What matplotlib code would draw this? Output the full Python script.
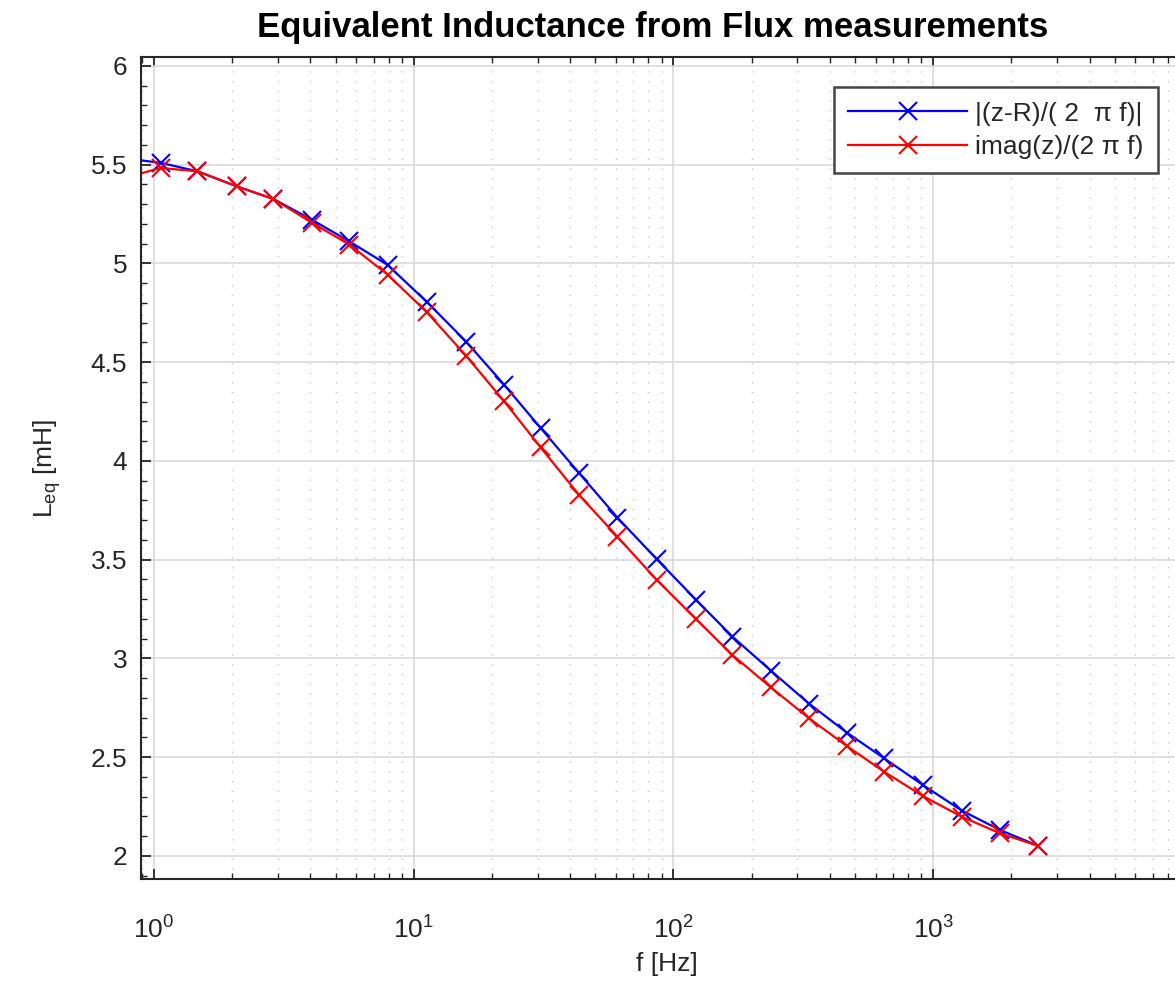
import numpy as np
import matplotlib
matplotlib.use("Agg")
import matplotlib.pyplot as plt
from matplotlib.ticker import LogLocator, MultipleLocator, FixedLocator, FormatStrFormatter

plt.rcParams["font.family"] = ["Liberation Sans", "DejaVu Sans"]
plt.rcParams["mathtext.default"] = "regular"

# frequencies [Hz] and equivalent inductance [mH]
freq = [0.757, 1.06, 1.47, 2.08, 2.88, 4.05, 5.65, 7.93, 11.2, 15.9, 22.3, 30.8,
        43.3, 60.8, 86.2, 122.2, 168.6, 237, 333, 465, 647, 912, 1289, 1809, 2542]
L_abs = [5.533, 5.509, 5.466, 5.390, 5.326, 5.221, 5.111, 4.992, 4.806, 4.604,
         4.385, 4.166, 3.938, 3.713, 3.502, 3.296, 3.110, 2.938, 2.770, 2.624,
         2.494, 2.359, 2.229, 2.131, 2.050]
L_imag = [5.430, 5.483, 5.466, 5.390, 5.326, 5.206, 5.095, 4.943, 4.754, 4.532,
          4.301, 4.068, 3.827, 3.616, 3.397, 3.198, 3.017, 2.853, 2.696, 2.556,
          2.426, 2.303, 2.198, 2.114, 2.050]
labels = ["|(z-R)/( 2  π f)|", "imag(z)/(2 π f)"]
xticks = [1, 10, 100, 1000]

DARK = "#262626"

fig = plt.figure(figsize=(11.75, 9.94), dpi=100)
ax = fig.add_axes([0.12, 0.1157, 0.8953, 0.827])

ax.semilogx(freq, L_abs, color="#0000ff", marker="x", markersize=13, mew=1.5,
            lw=1.6, label=labels[0])
ax.semilogx(freq, L_imag, color="#ff0000", marker="x", markersize=13, mew=1.5,
            lw=1.6, label=labels[1])

ax.set_xlim(0.891, 1e4)
ax.set_ylim(1.883, 6.045)
ax.xaxis.set_major_locator(FixedLocator(xticks))
ax.xaxis.set_minor_locator(LogLocator(base=10, subs=np.arange(2, 10), numticks=10))
ax.yaxis.set_major_locator(MultipleLocator(0.5))
ax.yaxis.set_minor_locator(MultipleLocator(0.1))
ax.yaxis.set_major_formatter(FormatStrFormatter("%g"))

ax.grid(which="major", color="#d9d9d9", lw=1.2)
ax.grid(which="minor", axis="x", color="#c8c8c8", lw=1.0, ls=(0, (1, 6)))
ax.set_axisbelow(True)

ax.tick_params(which="both", direction="in", top=True, right=False,
               colors=DARK, labelsize=19)
ax.tick_params(which="major", length=7, width=1.3)
ax.tick_params(which="minor", length=4, width=1.0)
ax.tick_params(axis="y", which="major", pad=10)
ax.tick_params(axis="x", which="major", pad=27)
for s in ax.spines.values():
    s.set_color(DARK)
    s.set_linewidth(1.5)

ax.set_xlabel("f [Hz]", fontsize=19, color=DARK, labelpad=6)
ax.set_ylabel("L$_{eq}$ [mH]", fontsize=19, color=DARK, labelpad=20)
fig.text(0.555, 0.972, "Equivalent Inductance from Flux measurements",
         ha="center", va="center", fontsize=25, fontweight="bold")

leg = ax.legend(loc="upper right", bbox_to_anchor=(1158 / 1175, 1 - 87 / 994),
                bbox_transform=fig.transFigure, borderaxespad=0, fontsize=19,
                fancybox=False, framealpha=1, edgecolor="#444444",
                handlelength=4.5, borderpad=0.55, labelspacing=0.35,
                handletextpad=0.3)
leg.get_frame().set_linewidth(1.8)
for t in leg.get_texts():
    t.set_color(DARK)

fig.savefig("out.png", dpi=100)
